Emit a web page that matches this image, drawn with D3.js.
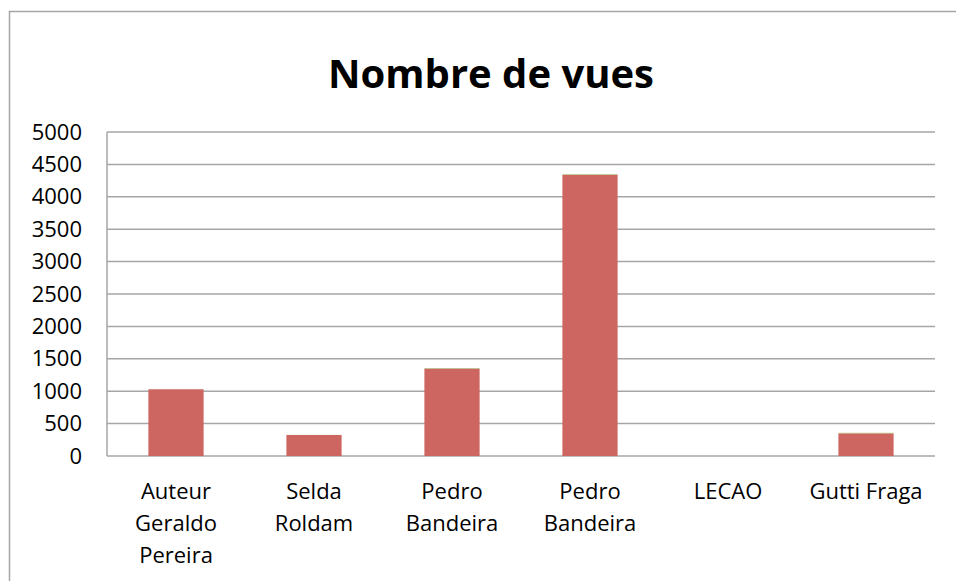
<!DOCTYPE html>
<html>
<head>
<meta charset="utf-8">
<script src="https://cdn.jsdelivr.net/npm/d3@7"></script>
<style>
  body { margin: 0; background: #fff; }
  svg { font-family: "Open Sans", sans-serif; }
</style>
</head>
<body>
<svg id="chart" width="956" height="581"></svg>
<script>
// Nombre de vues - one bar per author
const categories = ['Auteur Geraldo Pereira', 'Selda Roldam', 'Pedro Bandeira 1', 'Pedro Bandeira 2', 'LECAO', 'Gutti Fraga'];
const labelLines = [['Auteur', 'Geraldo', 'Pereira'], ['Selda', 'Roldam'], ['Pedro', 'Bandeira'], ['Pedro', 'Bandeira'], ['LECAO'], ['Gutti Fraga']];
const vues = [1030, 325, 1350, 4340, 0, 350];
const extra = [0, 0, 8, 10, 0, 8];
const yTicks = [0, 500, 1000, 1500, 2000, 2500, 3000, 3500, 4000, 4500, 5000];

const margin = { top: 132, right: 21, bottom: 125, left: 107 };
const width = 956 - margin.left - margin.right;
const height = 581 - margin.top - margin.bottom;

const svg = d3.select('#chart');

// outer frame (right/bottom edges fall outside the picture)
svg.append('rect')
  .attr('x', 9.5).attr('y', 11.5)
  .attr('width', 960).attr('height', 600)
  .attr('fill', 'none')
  .attr('stroke', '#a6a6a6')
  .attr('stroke-width', 1.5);

svg.append('text')
  .attr('x', 491).attr('y', 88)
  .attr('text-anchor', 'middle')
  .style('font-size', '40px')
  .style('font-weight', 'bold')
  .text('Nombre de vues');

const g = svg.append('g')
  .attr('transform', `translate(${margin.left},${margin.top})`);

const x = d3.scaleBand()
  .domain(categories)
  .range([0, width])
  .paddingInner(0.6)
  .paddingOuter(0.3);

const y = d3.scaleLinear()
  .domain([0, 5000])
  .range([height, 0]);

// gridlines
g.selectAll('.grid')
  .data(yTicks)
  .enter()
  .append('line')
  .attr('x1', 0).attr('x2', width)
  .attr('y1', d => y(d)).attr('y2', d => y(d))
  .attr('stroke', '#a6a6a6')
  .attr('stroke-width', 1.5);

g.append('line')
  .attr('x1', 0).attr('x2', 0)
  .attr('y1', 0).attr('y2', height)
  .attr('stroke', '#a6a6a6')
  .attr('stroke-width', 1.5);

// y axis labels
const yAxis = g.append('g')
  .call(d3.axisLeft(y).tickValues(yTicks).tickFormat(d3.format('d')).tickSize(0).tickPadding(25));
yAxis.select('.domain').remove();
yAxis.selectAll('text')
  .style('font-size', '22px')
  .style('font-family', '"Open Sans", sans-serif')
  .attr('fill', '#000');

// bars
g.selectAll('.bar')
  .data(categories)
  .enter()
  .append('rect')
  .attr('class', 'bar')
  .attr('x', d => x(d))
  .attr('y', (d, i) => y(vues[i]))
  .attr('width', x.bandwidth())
  .attr('height', (d, i) => height - y(vues[i]))
  .attr('fill', '#cd6660');

g.selectAll('.extra')
  .data(categories)
  .enter()
  .append('rect')
  .attr('class', 'extra')
  .attr('x', d => x(d))
  .attr('y', (d, i) => y(vues[i] + extra[i]))
  .attr('width', x.bandwidth())
  .attr('height', (d, i) => y(vues[i]) - y(vues[i] + extra[i]))
  .attr('fill', '#a9c878');

// x labels
const labels = g.selectAll('.xlabel')
  .data(categories)
  .enter()
  .append('text')
  .attr('class', 'xlabel')
  .attr('text-anchor', 'middle')
  .style('font-size', '22px')
  .attr('transform', d => `translate(${x(d) + x.bandwidth() / 2},${height + 43})`);

labels.selectAll('tspan')
  .data((d, i) => labelLines[i])
  .enter()
  .append('tspan')
  .attr('x', 0)
  .attr('dy', (d, i) => i === 0 ? 0 : 32)
  .text(d => d);
</script>
</body>
</html>
